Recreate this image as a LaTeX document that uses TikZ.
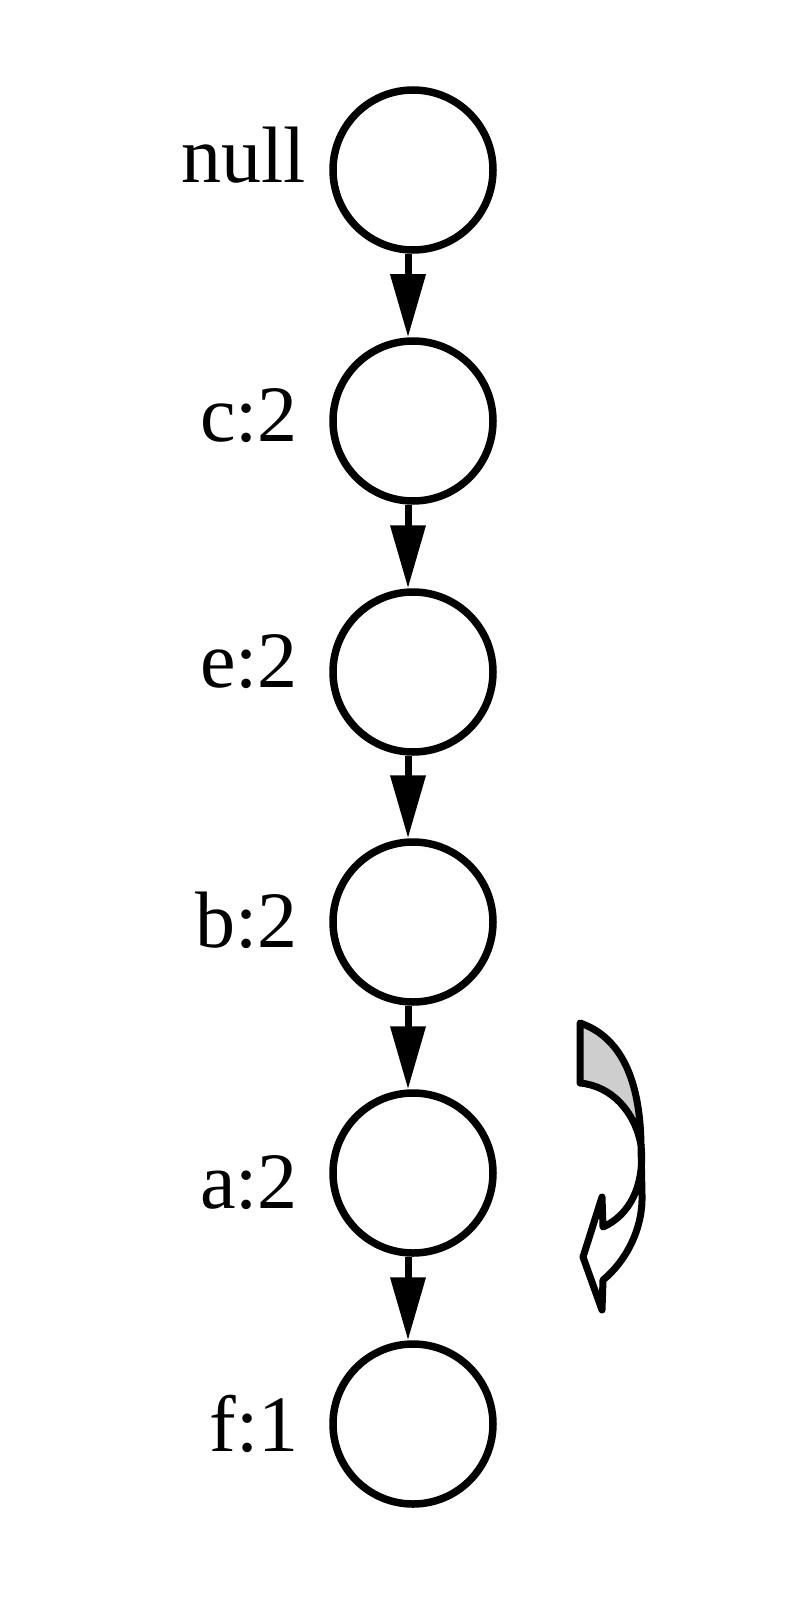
\documentclass[tikz,border=0pt]{standalone}
\usepackage{fontspec}
\setmainfont{Liberation Serif}
\usetikzlibrary{arrows.meta}
\begin{document}
\begin{tikzpicture}[x=1pt,y=-1pt,
  state/.style={circle,draw,line width=7.5pt,minimum size=160pt,inner sep=0pt,fill=white},
  lbl/.style={anchor=base east,inner sep=0pt,font=\fontsize{80}{90}\selectfont},
  arr/.style={line width=7pt,-{Triangle[length=63pt,width=34pt]}},
  bigarrow/.style={line width=7pt,line join=round}]
\useasboundingbox (0,0) rectangle (800,1602);
\node[state] (n0) at (413,170) {};
\node[state] (n1) at (413,421) {};
\node[state] (n2) at (413,672) {};
\node[state] (n3) at (413,922) {};
\node[state] (n4) at (413,1173) {};
\node[state] (n5) at (413,1424) {};
\node[lbl] (l0) at (306,183) {null};
\node[lbl] (l1) at (298,441) {c:2};
\node[lbl] (l2) at (298,687) {e:2};
\node[lbl] (l3) at (298,947) {b:2};
\node[lbl] (l4) at (298,1208) {a:2};
\node[lbl] (l5) at (299,1451) {f:1};
\foreach \a/\b in {n0/n1,n1/n2,n2/n3,n3/n4,n4/n5}
  \draw[arr] ([xshift=-5pt]\a.south) -- ([xshift=-5pt]\b.north);
% curved arrow
\draw[bigarrow,fill={rgb,255:red,206;green,206;blue,206}]
  (580,1023) .. controls (615,1035) and (640,1070) .. (641,1145)
  .. controls (635,1112) and (612,1086) .. (580,1083) -- cycle;
\draw[bigarrow,fill=white]
  (641,1145) .. controls (645,1185) and (630,1215) .. (603,1227)
  -- (602,1197) -- (583,1257) -- (602,1310) -- (603,1280)
  .. controls (625,1262) and (643,1230) .. (642,1195) -- cycle;
\end{tikzpicture}
\end{document}
